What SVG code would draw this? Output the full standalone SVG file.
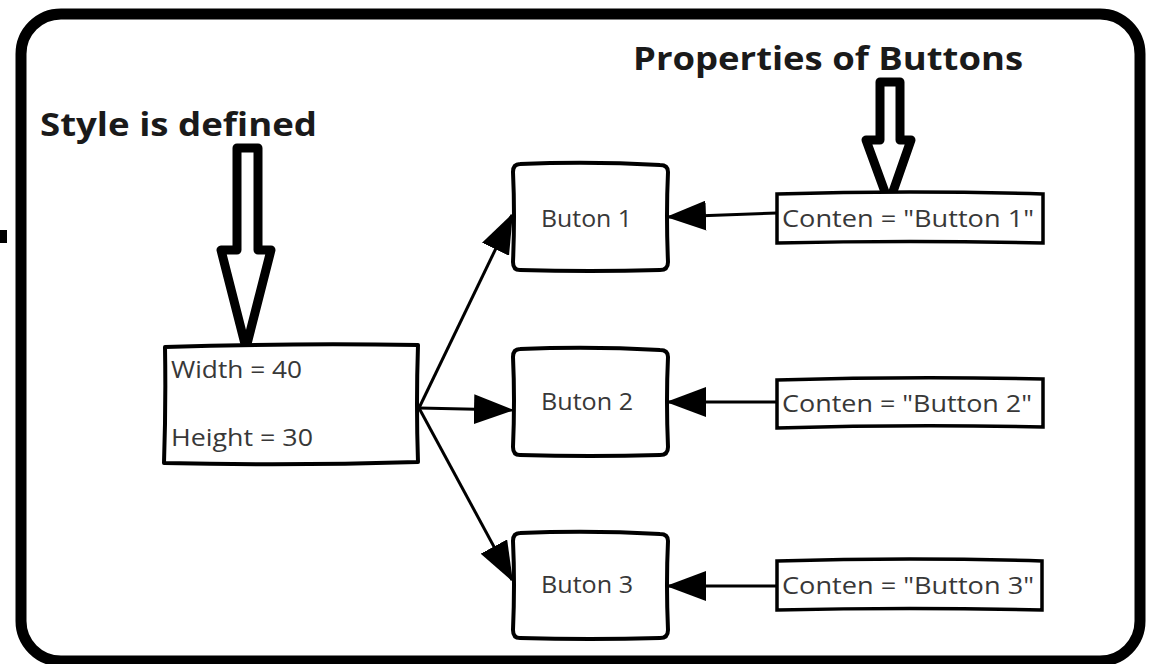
<svg xmlns="http://www.w3.org/2000/svg" width="1151" height="664" viewBox="0 0 1151 664">
<defs>
<style>
.frame{fill:none;stroke:#000;stroke-width:11}
.block{fill:#fff;stroke:#000;stroke-width:9;stroke-linejoin:round}
.box{fill:#fff;stroke:#000;stroke-width:4;stroke-linejoin:round}
.cbox{fill:#fff;stroke:#000;stroke-width:3.5;stroke-linejoin:miter}
.conn{fill:none;stroke:#000;stroke-width:3}
.title{font-family:"Open Sans","Liberation Sans",sans-serif;font-weight:bold;font-size:33px;fill:#1a1a1a}
.lbl{font-family:"Open Sans","Noto Sans","Liberation Sans",sans-serif;font-size:24px;fill:#383838}
</style>
<marker id="ah" markerUnits="userSpaceOnUse" markerWidth="40" markerHeight="30" refX="38" refY="15" orient="auto" viewBox="0 0 40 30">
<path d="M0,0 L40,15 L0,30 Z" fill="#000"/>
</marker>
</defs>
<rect width="1151" height="664" fill="#fff"/>
<rect class="frame" x="21" y="14" width="1119" height="647" rx="40"/>
<rect x="0" y="230" width="7" height="13" fill="#000"/>

<g id="title-style">
<text class="title" x="40" y="136" textLength="277" lengthAdjust="spacingAndGlyphs">Style is defined</text>
<path class="block" d="M237 148 L258 148 L258 250 L271 250 L246 348 L221 250 L237 250 Z"/>
</g>
<g id="title-props">
<text class="title" x="633" y="70" textLength="390" lengthAdjust="spacingAndGlyphs">Properties of Buttons</text>
<path class="block" d="M880 82 L900 82 L900 140 L911 140 L889 203 L866 140 L880 140 Z"/>
</g>

<g id="connectors">
<path class="conn" d="M419 408 L512 215" marker-end="url(#ah)"/>
<path class="conn" d="M419 408 L512 410" marker-end="url(#ah)"/>
<path class="conn" d="M419 408 L512 580" marker-end="url(#ah)"/>
<path class="conn" d="M777 213 L668 217" marker-end="url(#ah)"/>
<path class="conn" d="M777 402 L668 402" marker-end="url(#ah)"/>
<path class="conn" d="M777 586 L668 586" marker-end="url(#ah)"/>
</g>

<g id="style-box">
<path class="box" d="M165 347 Q290 343 418 345 Q416 405 418 462 Q290 466 164 463 Q166 405 165 347 Z"/>
<text class="lbl" x="171" y="378" textLength="131" lengthAdjust="spacingAndGlyphs">Width = 40</text>
<text class="lbl" x="171" y="446" textLength="142" lengthAdjust="spacingAndGlyphs">Height = 30</text>
</g>

<g id="button1">
<path class="box" d="M520 164 Q590 161 660 165 Q668 165 668 172 Q666 215 668 262 Q668 270 660 270 Q590 272 520 270 Q513 270 513 262 Q515 215 513 172 Q513 164 520 164 Z"/>
<text class="lbl" x="541" y="227" textLength="91" lengthAdjust="spacingAndGlyphs">Buton 1</text>
</g>
<g id="button2">
<path class="box" d="M520 349 Q590 346 660 350 Q668 350 668 357 Q666 400 668 447 Q668 455 660 455 Q590 457 520 455 Q513 455 513 447 Q515 400 513 357 Q513 349 520 349 Z"/>
<text class="lbl" x="541" y="410" textLength="92" lengthAdjust="spacingAndGlyphs">Buton 2</text>
</g>
<g id="button3">
<path class="box" d="M520 533 Q590 530 660 534 Q668 534 668 541 Q666 584 668 630 Q668 638 660 638 Q590 640 520 638 Q513 638 513 630 Q515 584 513 541 Q513 533 520 533 Z"/>
<text class="lbl" x="541" y="593" textLength="92" lengthAdjust="spacingAndGlyphs">Buton 3</text>
</g>

<g id="content1">
<path class="cbox" d="M777 194 Q910 190 1043 194 L1043 243 Q910 240 777 243 Z"/>
<text class="lbl" x="782" y="227" textLength="252" lengthAdjust="spacingAndGlyphs">Conten = "Button 1"</text>
</g>
<g id="content2">
<path class="cbox" d="M777 380 Q910 376 1043 379 L1043 427 Q910 424 777 428 Z"/>
<text class="lbl" x="782" y="412" textLength="250" lengthAdjust="spacingAndGlyphs">Conten = "Button 2"</text>
</g>
<g id="content3">
<path class="cbox" d="M777 561 Q910 557 1042 561 L1042 610 Q910 607 777 610 Z"/>
<text class="lbl" x="782" y="594" textLength="252" lengthAdjust="spacingAndGlyphs">Conten = "Button 3"</text>
</g>
</svg>
